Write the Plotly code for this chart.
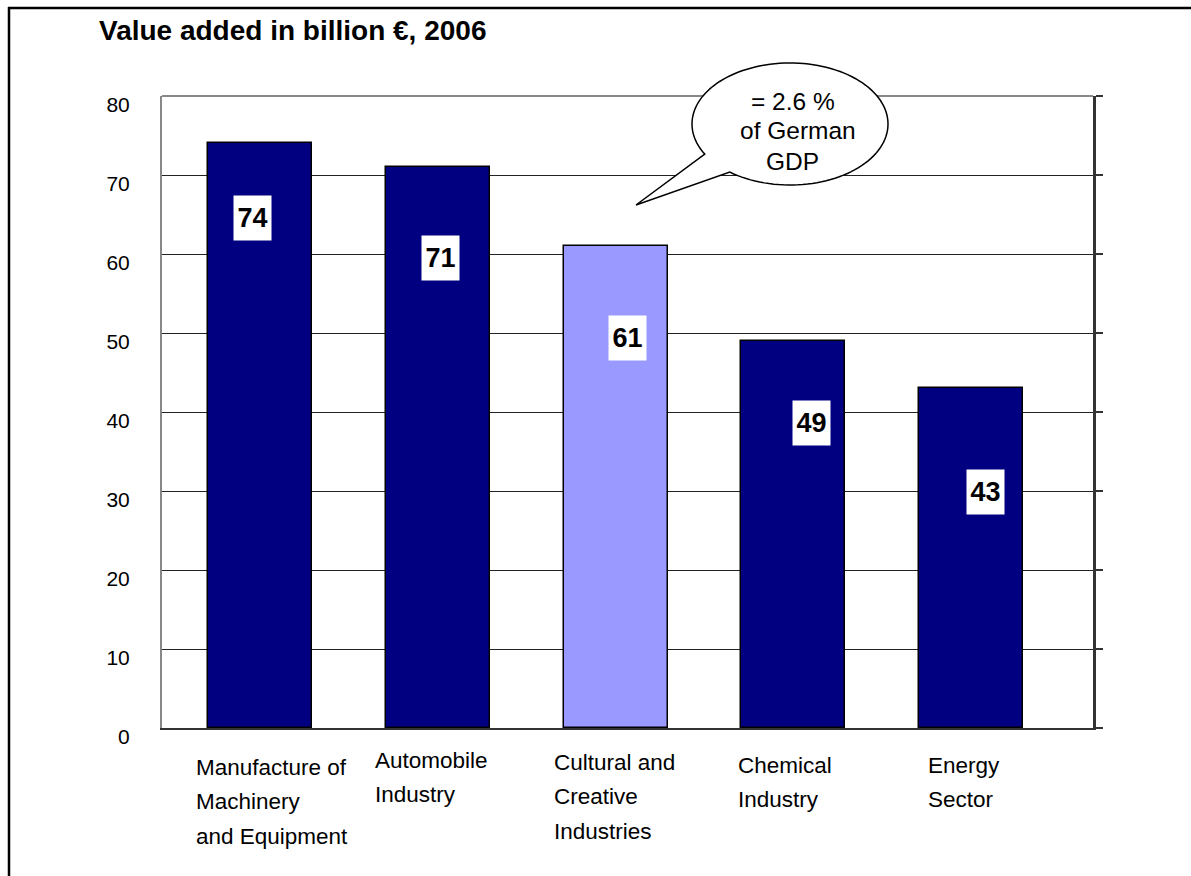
import numpy as np
import plotly.graph_objects as go

# Value added in billion euro, 2006
categories = [
    "Manufacture of\nMachinery\nand Equipment",
    "Automobile\nIndustry",
    "Cultural and\nCreative\nIndustries",
    "Chemical\nIndustry",
    "Energy\nSector",
]
values = [74, 71, 61, 49, 43]
highlight = [False, False, True, False, False]
y_ticks = [0, 10, 20, 30, 40, 50, 60, 70, 80]
callout_lines = ["= 2.6 %", "of German", "GDP"]

W, H = 1191, 876
L, R, T, B = 162, 1093, 96, 728  # plot area in pixels
FONT = "Arial, Liberation Sans, sans-serif"
NAVY = "#000080"
LIGHT = "#9999FF"


def px_x(px):
    return (px - L) / (R - L)


def px_y(py):
    return (B - py) / (B - T)


fig = go.Figure()
fig.add_bar(
    x=list(range(len(values))),
    y=values,
    width=0.585,
    marker=dict(color=[LIGHT if h else NAVY for h in highlight],
                line=dict(color="black", width=1.5)),
    hoverinfo="skip",
    showlegend=False,
)
# empty trace so the right-hand tick axis gets drawn
fig.add_scatter(x=[], y=[], yaxis="y2", mode="lines", hoverinfo="skip",
                showlegend=False)

annotations = []

# value boxes on the bars
val_xshift = [-7, 3, 12, 18, 14]
val_yshift = [-75, -91, -92, -82, -104]
for i, v in enumerate(values):
    annotations.append(dict(
        x=i, y=v, xref="x", yref="y", text=f"<b>{v}</b>", showarrow=False,
        xshift=val_xshift[i], yshift=val_yshift[i],
        width=37, height=44, bgcolor="white", borderpad=0,
        font=dict(family=FONT, size=27, color="black"),
    ))

# category labels, left aligned beneath each bar
cat_xshift = [-66, -65, -64, -57, -45]
cat_top = [767, 760, 762, 765, 765]
for i, name in enumerate(categories):
    for k, line in enumerate(name.split("\n")):
        annotations.append(dict(
            x=i, xref="x", y=px_y(cat_top[i] + 34.5 * k), yref="paper",
            text=line, showarrow=False, xanchor="left", yanchor="middle",
            xshift=cat_xshift[i],
            font=dict(family=FONT, size=22.5, color="black"),
        ))

# title
annotations.append(dict(
    x=px_x(97), y=px_y(30), xref="paper", yref="paper",
    text="<b>Value added in billion €, 2006</b>", showarrow=False,
    xanchor="left", yanchor="middle",
    font=dict(family=FONT, size=28, color="black"),
))

# speech bubble text
for (cx, cy), line in zip([(793, 101), (798, 131), (792, 161)], callout_lines):
    annotations.append(dict(
        x=px_x(cx), y=px_y(cy), xref="paper", yref="paper", text=line,
        showarrow=False, xanchor="center", yanchor="middle",
        font=dict(family=FONT, size=24.5, color="black"),
    ))

# speech bubble outline: ellipse with a pointed tail
ecx, ecy, erx, ery = 790, 124, 98, 61
a0 = np.arctan2((154 - ecy) / ery, (705 - ecx) / erx)
a1 = np.arctan2((172 - ecy) / ery, (730 - ecx) / erx) + 2 * np.pi
angles = np.linspace(a0, a1, 120)
pts = [(ecx + erx * np.cos(a), ecy + ery * np.sin(a)) for a in angles]
pts.append((636, 205))
path = "M " + " L ".join(f"{px_x(x):.5f},{px_y(y):.5f}" for x, y in pts) + " Z"

shapes = [
    dict(type="path", path=path, xref="paper", yref="paper",
         fillcolor="white", line=dict(color="black", width=1.5), layer="above"),
    # grey top edge of the plot frame
    dict(type="line", xref="paper", yref="paper", x0=0, x1=1, y0=1, y1=1,
         line=dict(color="#888888", width=2), layer="below"),
    # outer frame (top and left)
    dict(type="line", xref="paper", yref="paper", x0=px_x(8), x1=px_x(W + 5),
         y0=px_y(8), y1=px_y(8), line=dict(color="black", width=2.5)),
    dict(type="line", xref="paper", yref="paper", x0=px_x(9), x1=px_x(9),
         y0=px_y(7), y1=px_y(H + 5), line=dict(color="black", width=2.5)),
]

fig.update_layout(
    width=W, height=H,
    margin=dict(l=L, r=W - R, t=T, b=H - B, pad=0),
    paper_bgcolor="white", plot_bgcolor="white",
    font=dict(family=FONT, color="black"),
    xaxis=dict(range=[-0.55, 4.684], showticklabels=False, showgrid=False,
               zeroline=False, showline=True, linecolor="#333333", linewidth=2,
               ticks="", fixedrange=True),
    yaxis=dict(range=[0, 80], tickvals=y_ticks, showgrid=True,
               gridcolor="#222222", gridwidth=1, zeroline=False,
               showline=True, linecolor="#888888", linewidth=2, ticks="",
               tickfont=dict(family=FONT, size=21, color="black"),
               ticklabelstandoff=26, ticklabelshift=9, fixedrange=True),
    yaxis2=dict(range=[0, 80], tickvals=y_ticks, overlaying="y", side="right",
                showline=True, linecolor="#333333", linewidth=2.5,
                ticks="outside", ticklen=7, tickcolor="#333333", tickwidth=1.5,
                showticklabels=False, showgrid=False, zeroline=False,
                fixedrange=True),
    annotations=annotations,
    shapes=shapes,
    showlegend=False,
    bargap=0,
)

fig.write_html("out.html")
